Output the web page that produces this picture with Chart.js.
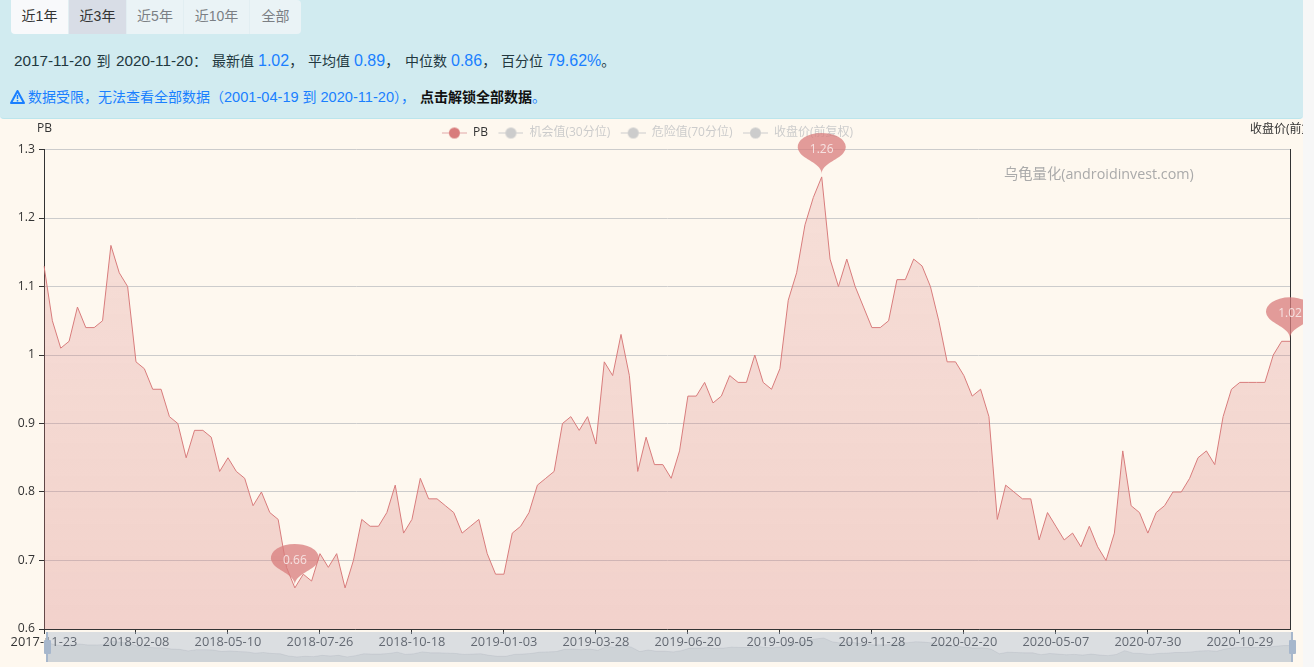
<!DOCTYPE html>
<html lang="zh-CN">
<head>
  <meta charset="UTF-8">
  <title>PB</title>
  <style>
    html, body { margin: 0; height: 100%; overflow: hidden; background: #f7f7f7; }
    body { font-family: "Liberation Sans", "Noto Sans CJK SC", sans-serif; color: #333; }
    .panel {
      position: absolute; left: 0; top: 0; width: 1303px; height: 118px;
      background: #d1ebf0; border-bottom: 1px solid #bce5ec; border-radius: 0 0 4px 4px;
    }
    .tabs { position: absolute; left: 11px; top: 0; display: flex; height: 34px; }
    .tabs span {
      display: block; height: 34px; line-height: 33px; text-align: center; font-size: 14px;
      background: #eaf3f6; color: #7b7f84; border-right: 1px solid #e2eef2; box-sizing: border-box;
    }
    .tabs span:first-child { background: #f8f9fb; color: #333; border-radius: 0 0 0 4px; }
    .tabs span:last-child { border-radius: 0 4px 4px 0; border-right: 0; }
    .tabs span.on { background: #d8dde6; color: #333; }
    .stats span { position: absolute; top: 51px; white-space: nowrap; font-size: 14px; line-height: 20px; color: #22383f; }
    .stats b { font-weight: normal; color: #1a7fff; font-size: 16px; }
    .stats i { font-style: normal; font-size: 15.3px; }
    .stats .range { word-spacing: 1.5px; }
    .warn { position: absolute; left: 28px; top: 87px; white-space: nowrap; font-size: 14px; line-height: 20px; color: #1a7fff; }
    .warn i { font-style: normal; font-size: 14.6px; }
    .warn strong { color: #111; margin-left: 5px; }
    .icon { position: absolute; left: 10px; top: 90px; }
    .chart-wrap {
      position: absolute; left: 0; top: 119px; width: 1303px; height: 548px;
      background: #fef8ef; overflow: hidden;
      font-family: "Open Sans", "Noto Sans CJK SC", sans-serif;
    }
    .chart-wrap canvas { position: absolute; left: 0; top: 0; }
    .chart-wrap canvas#sliderChart { left: 46px; top: 513px; background: rgba(167, 183, 204, 0.4); }
    .label { position: absolute; white-space: nowrap; font-size: 12px; color: #333; }
    .mark { left: 1004px; top: 43px; font-size: 14.3px; color: #aaa; }
    .bar { position: absolute; top: 513px; width: 2px; height: 30px; background: #a7b7cc; }
    .grip { position: absolute; top: 521px; width: 7px; height: 14px; background: #a7b7cc; border-radius: 1px; }
  </style>
  <script src="https://cdn.jsdelivr.net/npm/chart.js"></script>
</head>
<body>
  <div class="panel">
    <div class="tabs">
      <span style="width:58px">近1年</span><span class="on" style="width:58px">近3年</span><span style="width:57px">近5年</span><span style="width:66px">近10年</span><span style="width:51px">全部</span>
    </div>
    <div class="stats">
      <span class="range" style="left:14px"><i>2017-11-20</i> 到 <i>2020-11-20</i>：</span>
      <span style="left:212px">最新值</span><span style="left:258px"><b>1.02</b>，</span>
      <span style="left:308px">平均值</span><span style="left:354px"><b>0.89</b>，</span>
      <span style="left:405px">中位数</span><span style="left:451px"><b>0.86</b>，</span>
      <span style="left:501px">百分位</span><span style="left:547px"><b>79.62%</b>。</span>
    </div>
    <svg class="icon" width="15" height="14" viewBox="0 0 15 14"><path d="M7.5 1 L14 13 H1 Z" fill="none" stroke="#1a7fff" stroke-width="2" stroke-linejoin="round"/><path d="M7.5 5 V9 M7.5 10 V11.5" stroke="#1a7fff" stroke-width="1.5"/></svg>
    <div class="warn">数据受限，无法查看全部数据（<i>2001-04-19</i> 到 <i>2020-11-20</i>），<strong>点击解锁全部数据</strong>。</div>
  </div>

  <div class="chart-wrap">
    <canvas id="pbChart" width="1303" height="548"></canvas>
    <span class="label" style="left:37px;top:0px">PB</span>
    <span class="label" style="left:1250px;top:0px">收盘价(前复权)</span>
    <span class="label mark">乌龟量化(androidinvest.com)</span>
    <canvas id="sliderChart" width="1246" height="30"></canvas>
    <div class="bar" style="left:46px"></div>
    <div class="grip" style="left:44px"></div>
    <div class="bar" style="left:1291px"></div>
    <div class="grip" style="left:1289px"></div>
  </div>

  <script>
    // weekly PB readings
    const pbValues = [
      1.13, 1.05, 1.01, 1.02, 1.07, 1.04, 1.04, 1.05, 1.16, 1.12,
      1.10, 0.99, 0.98, 0.95, 0.95, 0.91, 0.90, 0.85, 0.89, 0.89,
      0.88, 0.83, 0.85, 0.83, 0.82, 0.78, 0.80, 0.77, 0.76, 0.69,
      0.66, 0.68, 0.67, 0.71, 0.69, 0.71, 0.66, 0.70, 0.76, 0.75,
      0.75, 0.77, 0.81, 0.74, 0.76, 0.82, 0.79, 0.79, 0.78, 0.77,
      0.74, 0.75, 0.76, 0.71, 0.68, 0.68, 0.74, 0.75, 0.77, 0.81,
      0.82, 0.83, 0.90, 0.91, 0.89, 0.91, 0.87, 0.99, 0.97, 1.03,
      0.97, 0.83, 0.88, 0.84, 0.84, 0.82, 0.86, 0.94, 0.94, 0.96,
      0.93, 0.94, 0.97, 0.96, 0.96, 1.00, 0.96, 0.95, 0.98, 1.08,
      1.12, 1.19, 1.23, 1.26, 1.14, 1.10, 1.14, 1.10, 1.07, 1.04,
      1.04, 1.05, 1.11, 1.11, 1.14, 1.13, 1.10, 1.05, 0.99, 0.99,
      0.97, 0.94, 0.95, 0.91, 0.76, 0.81, 0.80, 0.79, 0.79, 0.73,
      0.77, 0.75, 0.73, 0.74, 0.72, 0.75, 0.72, 0.70, 0.74, 0.86,
      0.78, 0.77, 0.74, 0.77, 0.78, 0.80, 0.80, 0.82, 0.85, 0.86,
      0.84, 0.91, 0.95, 0.96, 0.96, 0.96, 0.96, 1.00, 1.02, 1.02
    ];
    // a label every 11 points
    const tickLabels = [
      '2017-11-23', '2018-02-08', '2018-05-10', '2018-07-26', '2018-10-18',
      '2019-01-03', '2019-03-28', '2019-06-20', '2019-09-05', '2019-11-28',
      '2020-02-20', '2020-05-07', '2020-07-30', '2020-10-29'
    ];
    const seriesNames = ['PB', '机会值(30分位)', '危险值(70分位)', '收盘价(前复权)'];

    const categories = pbValues.map((v, i) => (i % 11 === 0 ? tickLabels[i / 11] : ''));
    const RED = '#d87c7c';
    const FONT = '"Open Sans", "Noto Sans CJK SC", sans-serif';

    // legend symbol: short line with a dot
    function legendIcon(color, lineColor) {
      const c = document.createElement('canvas');
      c.width = 27; c.height = 14;
      const g = c.getContext('2d');
      g.strokeStyle = lineColor;
      g.beginPath(); g.moveTo(2, 7.5); g.lineTo(27, 7.5); g.stroke();
      g.fillStyle = color;
      g.beginPath(); g.arc(14.5, 7.5, 5.5, 0, Math.PI * 2); g.fill();
      return c;
    }

    // pin markers for max, min and latest value
    const pinPlugin = {
      id: 'pins',
      afterLayout(chart) {
        chart.legend.top -= 1;
        chart.legend.left -= 5;
        chart.legend.right -= 5;
      },
      afterDatasetsDraw(chart) {
        const ctx = chart.ctx;
        const marks = [pbValues.indexOf(Math.max(...pbValues)), pbValues.indexOf(Math.min(...pbValues)), pbValues.length - 1];
        marks.forEach(i => {
          const x = chart.scales.x.getPixelForValue(i);
          const y = chart.scales.y.getPixelForValue(pbValues[i]) - 3;
          const r = 15, h = 50;
          const dy = r * r / (h - r), cy = -h + r + dy, ang = Math.asin(dy / r), dx = Math.cos(ang) * r;
          const tanX = Math.sin(ang), tanY = Math.cos(ang), c1 = r * 0.6, c2 = r * 0.7;
          ctx.save();
          ctx.translate(x, y);
          ctx.save();
          ctx.scale(1.6, 0.94);
          ctx.beginPath();
          ctx.moveTo(-dx, cy + dy);
          ctx.arc(0, cy, r, Math.PI - ang, Math.PI * 2 + ang);
          ctx.bezierCurveTo(dx - tanX * c1, cy + dy + tanY * c1, 0, -c2, 0, 0);
          ctx.bezierCurveTo(0, -c2, -dx + tanX * c1, cy + dy + tanY * c1, -dx, cy + dy);
          ctx.closePath();
          ctx.fillStyle = 'rgba(216, 124, 124, 0.75)';
          ctx.fill();
          ctx.restore();
          ctx.fillStyle = 'rgba(255, 255, 255, 0.7)';
          ctx.font = '12px ' + FONT;
          ctx.textAlign = 'center';
          ctx.textBaseline = 'middle';
          ctx.fillText(pbValues[i].toFixed(2), 0, -24.5);
          ctx.restore();
        });
      }
    };

    new Chart(document.getElementById('pbChart').getContext('2d'), {
      type: 'line',
      plugins: [pinPlugin],
      data: {
        labels: categories,
        datasets: seriesNames.map((name, i) => ({
          label: name,
          data: i === 0 ? pbValues : [],
          hidden: i !== 0,
          yAxisID: i === 3 ? 'y1' : 'y',
          borderColor: RED,
          borderWidth: 1,
          pointRadius: 0,
          tension: 0,
          fill: 'start',
          backgroundColor(context) {
            const { chart } = context;
            if (!chart.chartArea) return 'transparent';
            const g = chart.ctx.createLinearGradient(0, chart.scales.y.getPixelForValue(1.26), 0, chart.chartArea.bottom);
            g.addColorStop(0, 'rgba(216, 124, 124, 0.2)');
            g.addColorStop(1, 'rgba(216, 124, 124, 0.31)');
            return g;
          }
        }))
      },
      options: {
        responsive: false,
        animation: false,
        devicePixelRatio: 1,
        font: { family: FONT },
        scales: {
          x: {
            afterFit(scale) { scale.height = 38; },
            afterBuildTicks(scale) { scale.ticks = scale.ticks.filter(t => t.value % 11 === 0); },
            grid: { drawOnChartArea: false, tickColor: '#333', tickLength: 5 },
            border: { color: '#333' },
            ticks: {
              autoSkip: false, maxRotation: 0, minRotation: 0, padding: 1, color: '#333',
              font: { family: FONT, size: 12.8 },
              callback(v) { return categories[v]; }
            }
          },
          y: {
            min: 0.6, max: 1.3,
            afterFit(scale) { scale.width = 44; },
            grid: { color: '#ccc', tickColor: '#333', tickLength: 5 },
            border: { color: '#333' },
            ticks: {
              stepSize: 0.1, padding: 4, color: '#333',
              font: { family: FONT, size: 12.2 },
              callback(v) { return +v.toFixed(1); }
            }
          },
          y1: {
            position: 'right',
            afterFit(scale) { scale.width = 13; },
            grid: { drawOnChartArea: false, drawTicks: false },
            border: { color: '#333' },
            ticks: { display: false }
          }
        },
        plugins: {
          tooltip: { enabled: false },
          legend: {
            position: 'top',
            onClick: null,
            labels: {
              usePointStyle: true,
              pointStyleWidth: 27,
              padding: 8.5,
              font: { family: FONT, size: 12 },
              generateLabels() {
                return seriesNames.map((name, i) => ({
                  text: name,
                  datasetIndex: i,
                  fontColor: i === 0 ? '#333' : '#ccc',
                  pointStyle: i === 0 ? legendIcon(RED, '#e3a8a8') : legendIcon('#ccc', '#ccc')
                }));
              }
            }
          }
        }
      }
    });

    // range slider strip under the axis
    new Chart(document.getElementById('sliderChart').getContext('2d'), {
      type: 'line',
      data: {
        labels: categories,
        datasets: [{
          data: pbValues,
          borderColor: 'rgba(47, 69, 84, 0.08)',
          borderWidth: 1,
          pointRadius: 0,
          tension: 0,
          fill: 'start',
          backgroundColor: 'rgba(47, 69, 84, 0.07)'
        }]
      },
      options: {
        responsive: false,
        animation: false,
        devicePixelRatio: 1,
        scales: {
          x: { display: false },
          y: { display: false, min: 0.5, max: 1.45 }
        },
        plugins: { legend: { display: false }, tooltip: { enabled: false } }
      }
    });
  </script>
</body>
</html>
